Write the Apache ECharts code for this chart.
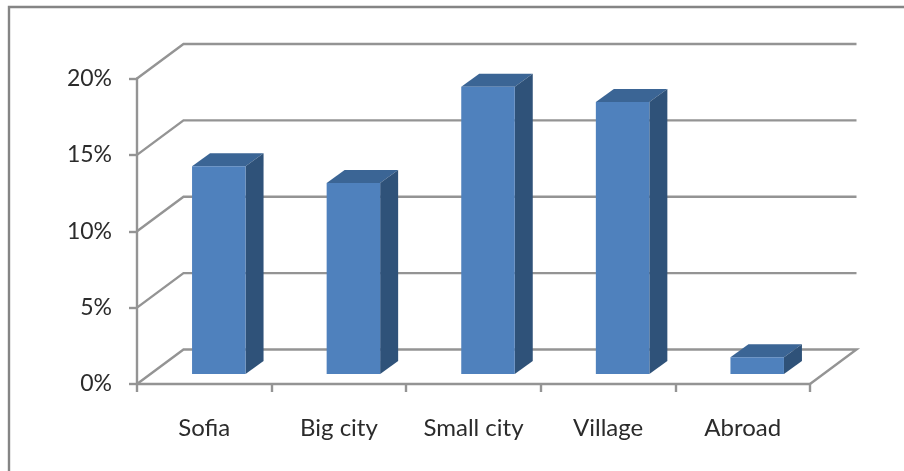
<!DOCTYPE html>
<html><head><meta charset="utf-8">
<style>html,body{margin:0;padding:0;background:#fff}#c{width:904px;height:471px}</style>
<script src="https://cdn.jsdelivr.net/npm/echarts@6/dist/echarts.min.js"></script>
</head><body><div id="c"></div>
<script>
const categories = ['Sofia','Big city','Small city','Village','Abroad'];
const shares = [13.6,12.5,18.8,17.8,1.1];
const wallTicks = [0,5,10,15,20];

const LINE = '#949494';
const WALL_DX = 46.5, WALL_DY = -34.5;
const BAR_DX = 14.5, BAR_DY = -10, BAR_W = 53.5, SIDE_DX = 18, SIDE_DY = -13;
const chart = echarts.init(document.getElementById('c'));

function wallItem(params, api){
  const v = api.value(0);
  const cs = params.coordSys;
  const y = api.coord([0, v])[1];
  const l = cs.x, r = cs.x + cs.width;
  const pts = [[l,y],[l+WALL_DX,y+WALL_DY],[r+WALL_DX,y+WALL_DY]];
  if (v === 0) pts.push([r,y]);
  return {type:'polyline', shape:{points:pts}, style:{stroke:LINE, lineWidth:2.4, fill:null}, silent:true};
}
function barItem(params, api){
  const c = api.coord([api.value(0), api.value(1)]);
  const b = api.coord([api.value(0), 0]);
  const x0 = c[0] + BAR_DX - BAR_W/2, x1 = x0 + BAR_W;
  const yt = c[1] + BAR_DY, yb = b[1] + BAR_DY;
  return {type:'group', children:[
    {type:'polygon', shape:{points:[[x0,yt],[x0+SIDE_DX,yt+SIDE_DY],[x1+SIDE_DX,yt+SIDE_DY],[x1,yt]]}, style:{fill:'#3b6595'}},
    {type:'polygon', shape:{points:[[x1,yt],[x1+SIDE_DX,yt+SIDE_DY],[x1+SIDE_DX,yb+SIDE_DY],[x1,yb]]}, style:{fill:'#2f5279'}},
    {type:'rect', shape:{x:x0,y:yt,width:BAR_W,height:yb-yt}, style:{fill:'#4f81bd'}}
  ]};
}
chart.setOption({
  animation:false,
  backgroundColor:'#fff',
  graphic:[{type:'rect', shape:{x:9,y:7,width:900,height:480}, style:{fill:null,stroke:'#858585',lineWidth:2.4}, silent:true}],
  grid:{left:137, top:78.5, width:673, height:305.5},
  xAxis:{type:'category', data:categories,
    axisLine:{lineStyle:{color:LINE,width:2.4}},
    axisTick:{show:true,length:8,lineStyle:{color:LINE,width:2.4}},
    axisLabel:{color:'#2b2b2b',fontFamily:'Lato',fontSize:24,margin:32},
    splitLine:{show:false}},
  yAxis:{type:'value',min:0,max:20,interval:5,
    axisLine:{show:true,lineStyle:{color:LINE,width:2.4}},
    axisTick:{show:true,length:8,lineStyle:{color:LINE,width:2.4}},
    axisLabel:{color:'#2b2b2b',fontFamily:'Lato',fontSize:23,margin:25,formatter:'{value}%'},
    splitLine:{show:false}},
  series:[
    {type:'custom',renderItem:wallItem,data:wallTicks.map(v=>[v]),encode:{y:0},z:1,silent:true,clip:false},
    {type:'custom',renderItem:barItem,data:shares.map((v,i)=>[i,v]),encode:{x:0,y:1},z:3,clip:false}
  ]
});
</script></body></html>
